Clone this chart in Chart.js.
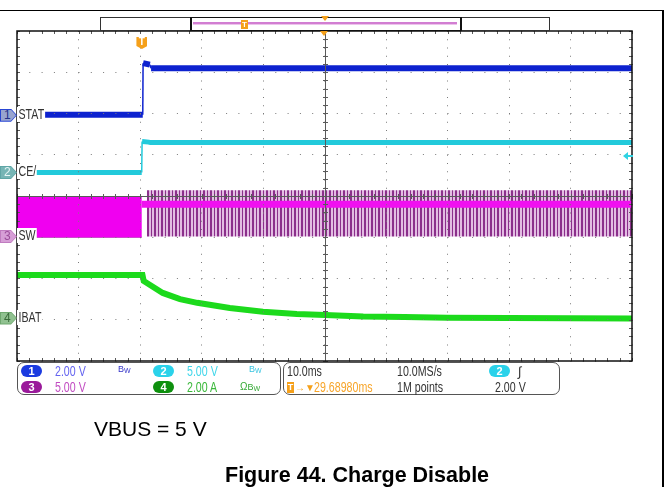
<!DOCTYPE html>
<html>
<head>
<meta charset="utf-8">
<script src="https://cdn.jsdelivr.net/npm/chart.js@4.4.1/dist/chart.umd.min.js"></script>
<style>
html, body { margin: 0; padding: 0; background: #fff; }
#page { position: relative; width: 669px; height: 487px; overflow: hidden;
  font-family: 'Liberation Sans', Arial, sans-serif; font-size: 14px; color: #333; }
#wrap { position: absolute; left: 0; top: 0; width: 669px; height: 487px; }
.abs { position: absolute; white-space: nowrap; line-height: 15px; }
/* scope readout font is a condensed sans */
.t { transform: scaleX(0.76); transform-origin: 0 0; }
.lb { position: absolute; left: 17px; padding: 0 1px 0 2px; background: #fff; line-height: 15px; color: #333;
  transform: scaleX(0.76); transform-origin: 0 0; }
.mk { position: absolute; left: 0; width: 17px; height: 13px; background: var(--bd);
  clip-path: polygon(0 0, 11px 0, 17px 50%, 11px 100%, 0 100%); }
.mk span { position: absolute; left: 1px; top: 1px; width: 15px; height: 11px; background: var(--bg);
  clip-path: polygon(0 0, 10px 0, 15px 50%, 10px 100%, 0 100%);
  font-size: 12px; line-height: 11px; text-indent: 3px; color: var(--fg); }
.pill { position: absolute; width: 21px; height: 12px; border-radius: 6px; color: #fff;
  font-weight: bold; font-size: 11px; line-height: 12px; text-align: center; }
.box { position: absolute; top: 362px; height: 31px; border: 1.5px solid #555; border-radius: 7px; }
sub { font-size: 7px; vertical-align: -1px; }
.bw { font-size: 9px; }
.cap { position: absolute; color: #000; white-space: nowrap; line-height: 21px; }
</style>
</head>
<body>
<div id="page">
  <div id="wrap"><canvas id="scope"></canvas></div>

  <!-- frame lines round the screenshot -->
  <div class="abs" style="left:0;top:9.5px;width:663px;height:1.5px;background:#000"></div>
  <div class="abs" style="left:662px;top:10px;width:1.5px;height:477px;background:#000"></div>

  <!-- record overview bar -->
  <div class="abs" style="left:100px;top:17px;width:448px;height:12px;border:1px solid #333;background:#fff"></div>
  <div class="abs" style="left:190px;top:17px;width:268px;height:12px;border:1px solid #111;border-left-width:2px;border-right-width:2px"></div>
  <div class="abs" style="left:193px;top:22px;width:264px;height:2px;background:#d27ed2"></div>
  <div class="abs" style="left:193px;top:24px;width:264px;height:1px;background:#ecc4ec"></div>
  <div class="abs" style="left:241px;top:20px;width:7px;height:9px;background:#f5a01a;color:#fff;font-weight:bold;font-size:8px;line-height:9px;text-align:center">T</div>
  <div id="triTop" class="abs" style="top:16px;width:0;height:0;border-left:4px solid transparent;border-right:4px solid transparent;border-top:5px solid #f5a01a"></div>
  <div id="triBot" class="abs" style="top:31px;width:0;height:0;border-left:4.5px solid transparent;border-right:4.5px solid transparent;border-top:5px solid #f5a01a"></div>

  <!-- trigger position marker -->
  <div id="trigMk" class="abs" style="top:37px;width:11px;height:12px;background:#f5a01a;color:#fff;font-weight:bold;font-size:10px;line-height:10px;text-align:center;clip-path:polygon(0 0,100% 0,100% 75%,50% 100%,0 75%)">T</div>

  <!-- trigger level arrow -->
  <div id="lvl" class="abs" style="left:623px;width:10px;height:8px">
    <div style="position:absolute;left:0;top:0;width:0;height:0;border-top:4px solid transparent;border-bottom:4px solid transparent;border-right:5px solid #2fd3e3"></div>
    <div style="position:absolute;left:5px;top:3px;width:5px;height:2px;background:#2fd3e3"></div>
  </div>

  <!-- channel markers and labels -->
  <div class="mk" id="mk0" style="--bd:#2946d4;--bg:#98a4cf;--fg:#24318a"><span>1</span></div>
  <div class="mk" id="mk1" style="--bd:#5fa6a6;--bg:#76b5b5;--fg:#e6f6f6"><span>2</span></div>
  <div class="mk" id="mk2" style="--bd:#c07cc0;--bg:#d69ed6;--fg:#9a4c9a"><span>3</span></div>
  <div class="mk" id="mk3" style="--bd:#6fa86f;--bg:#90c190;--fg:#3a6a3a"><span>4</span></div>
  <div class="lb" id="lb0">STAT</div>
  <div class="lb" id="lb1">CE/</div>
  <div class="lb" id="lb2">SW</div>
  <div class="lb" id="lb3">IBAT</div>

  <!-- channel readout -->
  <div class="box" style="left:17px;width:262px"></div>
  <div class="pill" style="left:21px;top:365px;background:#1b3be0">1</div>
  <div class="abs t" style="left:55px;top:364px;color:#6464f0">2.00 V</div>
  <div class="abs bw" style="left:118px;top:362px;color:#3434c8">B<sub>W</sub></div>
  <div class="pill" style="left:153px;top:365px;background:#2ad2ea">2</div>
  <div class="abs t" style="left:187px;top:364px;color:#3fd6ea">5.00 V</div>
  <div class="abs bw" style="left:249px;top:362px;color:#38c4e0">B<sub>W</sub></div>
  <div class="pill" style="left:21px;top:381px;background:#9a1a9a">3</div>
  <div class="abs t" style="left:55px;top:380px;color:#c24cc2">5.00 V</div>
  <div class="pill" style="left:153px;top:381px;background:#0e900e">4</div>
  <div class="abs t" style="left:187px;top:380px;color:#3ab83a">2.00 A</div>
  <div class="abs bw" style="left:240px;top:379px;color:#34a834;font-size:10px">Ω<span style="font-size:9px">B<sub>W</sub></span></div>

  <!-- timebase / trigger readout -->
  <div class="box" style="left:283px;width:275px"></div>
  <div class="abs t" style="left:287px;top:364px">10.0ms</div>
  <div class="abs t" style="left:397px;top:364px">10.0MS/s</div>
  <div class="pill" style="left:489px;top:365px;background:#2ad2ea">2</div>
  <div class="abs" style="left:518px;top:364px;font-style:italic;font-size:13px">∫</div>
  <div class="abs" style="left:287px;top:382px;width:7px;height:11px;background:#f5a01a;color:#fff;font-weight:bold;font-size:9px;line-height:11px;text-align:center">T</div>
  <div class="abs" style="left:295px;top:380px;color:#f5a01a;font-size:10px">→▼</div>
  <div class="abs t" style="left:314px;top:380px;color:#f7a52a">29.68980ms</div>
  <div class="abs t" style="left:397px;top:380px">1M points</div>
  <div class="abs t" style="left:495px;top:380px">2.00 V</div>

  <!-- captions -->
  <div class="cap" style="left:94px;top:418px;font-size:21px">VBUS = 5 V</div>
  <div class="cap" style="left:225px;top:465px;font-size:21.5px;font-weight:bold">Figure 44. Charge Disable</div>
</div>

<script>
// channel setup: name, volts (or amps) per division, ground position in divisions
const chNames = ['STAT', 'CE/', 'SW', 'IBAT'];
const chScale = [2, 5, 5, 2];
const chOffset = [1.96, 0.57, -0.98, -2.96];

// trigger: ch2 rising edge at 2.00 V, 29.6898 ms left of screen centre
const trigTime = -29.6898;
const trigLevel = 2.0;

// time axis in ms, 10 ms/div, centre of screen = 0
const statT = [-50, -29.55, -29.5, -28.4, -28.2, 50];
const statV = [0.02, 0.02, 2.52, 2.45, 2.27, 2.27];

const ceT = [-50, -29.72, -29.66, -28.6, -28.3, 50];
const ceV = [0.0, 0.0, 3.75, 3.68, 3.62, 3.62];

// SW: envelope while switching, then burst-mode spikes round a 3.9 V band
const swOnT = [-50, -29.7];
const swOnHi = [4.9, 4.9];
const swOnLo = [-0.1, -0.1];
const swBurstT = [-28.9, 50];
const swBurstHi = [5.6, 5.6];
const swBurstLo = [0.0, 0.0];
const swBandT = [-29.7, 50];
const swBandV = [3.9, 3.9];

const ibatT = [-50, -29.6, -29.4, -26.3, -23.5, -20.7, -15.4, -10.0, -4.5, 0.1, 6.3, 13, 20, 30, 40, 50];
const ibatA = [2.09, 2.09, 1.80, 1.22, 0.92, 0.74, 0.49, 0.31, 0.20, 0.15, 0.08, 0.05, 0.02, 0.0, -0.01, -0.02];

function toDiv(ts, vs, ch) {
  return ts.map((t, i) => ({x: t, y: chOffset[ch] + vs[i] / chScale[ch]}));
}

// fast edges are drawn as a hairline, flat parts as a thick trace
function edgeWidth(w) {
  return ctx => (Math.abs(ctx.p1.parsed.x - ctx.p0.parsed.x) < 0.2 ? 1.5 : w);
}

const canvas = document.getElementById('scope');
const ctx2d = canvas.getContext('2d');

// vertical stripes for the burst-mode switching edges
function stripePattern() {
  const c = document.createElement('canvas');
  c.width = 7; c.height = 4;
  const g = c.getContext('2d');
  g.fillStyle = '#e2bce2';
  g.fillRect(0, 0, 7, 4);
  g.fillStyle = '#8b2f8b';
  g.fillRect(0, 0, 2, 4);
  g.fillRect(4, 0, 1, 4);
  return ctx2d.createPattern(c, 'repeat');
}

// centre cross, tick marks and frame drawn like a scope graticule
const graticule = {
  id: 'graticule',
  afterDraw(chart) {
    const {ctx, chartArea: a, scales: {x, y}} = chart;
    const cx = Math.round(x.getPixelForValue(0)) + 0.5;
    const cy = Math.round(y.getPixelForValue(0)) + 0.5;
    ctx.save();
    ctx.strokeStyle = '#5a5a5a';
    ctx.lineWidth = 1;
    ctx.beginPath();
    ctx.moveTo(cx, a.top); ctx.lineTo(cx, a.bottom);
    ctx.moveTo(a.left, cy); ctx.lineTo(a.right, cy);
    for (let v = x.min; v <= x.max + 1e-6; v += 2) {
      const px = Math.round(x.getPixelForValue(v)) + 0.5;
      ctx.moveTo(px, cy - 2.5); ctx.lineTo(px, cy + 2.5);
      ctx.moveTo(px, a.top); ctx.lineTo(px, a.top + 3);
      ctx.moveTo(px, a.bottom); ctx.lineTo(px, a.bottom - 3);
    }
    for (let v = y.min; v <= y.max + 1e-6; v += 0.2) {
      const py = Math.round(y.getPixelForValue(v)) + 0.5;
      ctx.moveTo(cx - 2.5, py); ctx.lineTo(cx + 2.5, py);
      ctx.moveTo(a.left, py); ctx.lineTo(a.left + 3, py);
      ctx.moveTo(a.right, py); ctx.lineTo(a.right - 3, py);
    }
    ctx.stroke();
    ctx.strokeStyle = '#111';
    ctx.lineWidth = 1.5;
    ctx.strokeRect(a.left, a.top, a.width, a.height);
    ctx.restore();
  }
};

const chart = new Chart(canvas, {
  type: 'line',
  data: {
    datasets: [
      {label: 'STAT', data: toDiv(statT, statV, 0), borderColor: '#0d22cf', borderWidth: 6,
        segment: {borderWidth: edgeWidth(6)}},
      {label: 'CE/', data: toDiv(ceT, ceV, 1), borderColor: '#22cadb', borderWidth: 5,
        segment: {borderWidth: edgeWidth(5)}},
      {label: 'SW band', data: toDiv(swBandT, swBandV, 2), borderColor: '#f010f0', borderWidth: 7},
      {label: 'IBAT', data: toDiv(ibatT, ibatA, 3), borderColor: '#1cda1c', borderWidth: 6},
      {label: 'SW burst hi', data: toDiv(swBurstT, swBurstHi, 2), borderWidth: 0, fill: '+1', backgroundColor: stripePattern()},
      {label: 'SW burst lo', data: toDiv(swBurstT, swBurstLo, 2), borderWidth: 0},
      {label: 'SW hi', data: toDiv(swOnT, swOnHi, 2), borderWidth: 0, fill: '+1', backgroundColor: '#f000f0'},
      {label: 'SW lo', data: toDiv(swOnT, swOnLo, 2), borderColor: '#b22cb2', borderWidth: 1}
    ]
  },
  options: {
    responsive: true,
    maintainAspectRatio: false,
    animation: false,
    layout: {padding: {left: 17, top: 31, right: 37, bottom: 126}},
    elements: {point: {radius: 0}, line: {tension: 0}},
    plugins: {legend: {display: false}, tooltip: {enabled: false}},
    scales: {
      x: {
        type: 'linear', min: -50, max: 50,
        ticks: {display: false, stepSize: 10},
        grid: {color: '#7a7a7a', drawTicks: false, z: 1},
        border: {display: false, dash: [1, 7.25]}
      },
      y: {
        type: 'linear', min: -4, max: 4,
        ticks: {display: false, stepSize: 1},
        grid: {color: '#7a7a7a', drawTicks: false, z: 1},
        border: {display: false, dash: [1, 11.3]}
      }
    }
  },
  plugins: [graticule]
});

// put markers and labels where the chart's scales say they belong
function placeOverlays() {
  const {x, y} = chart.scales;
  chNames.forEach((n, i) => {
    const py = y.getPixelForValue(chOffset[i]);
    document.getElementById('mk' + i).style.top = (py - 6.5) + 'px';
    document.getElementById('lb' + i).style.top = (py - 8) + 'px';
  });
  const tx = x.getPixelForValue(trigTime);
  document.getElementById('trigMk').style.left = (tx - 5.5) + 'px';
  const cx = x.getPixelForValue(0);
  document.getElementById('triTop').style.left = (cx - 4) + 'px';
  document.getElementById('triBot').style.left = (cx - 4.5) + 'px';
  const ly = y.getPixelForValue(chOffset[1] + trigLevel / chScale[1]);
  document.getElementById('lvl').style.top = (ly - 4) + 'px';
}
placeOverlays();
</script>
</body>
</html>
